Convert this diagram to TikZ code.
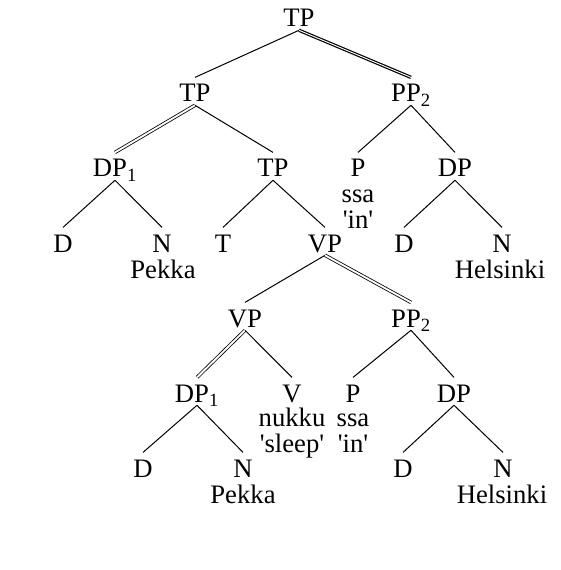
\documentclass[tikz,border=0pt]{standalone}
\usepackage{fontspec}
\setmainfont{Liberation Serif}[Ligatures=TeXOff]
\usepackage{tikz}

\tikzset{
  cat/.style  = {font=\fontsize{20}{22}\selectfont, inner xsep=0pt, inner ysep=2.25pt,
                 text height=16pt, text depth=0pt, anchor=base},
  word/.style = {font=\fontsize{20}{19}\selectfont, inner sep=0pt, anchor=base, align=center},
  branch/.style = {line width=0.75pt},
  moved/.style  = {double, line width=0.6pt, double distance=1.4pt},
  heavy/.style  = {double, line width=0.9pt, double distance=0.7pt}
}

\begin{document}
\begin{tikzpicture}[x=0.75pt, y=-0.75pt]

 \useasboundingbox (0,0) rectangle (560,570);

 % Root
 \node [cat] (tp0) at (299,27) {TP};

 % First level below the root
 \node [cat] (tp1) at (195,102) {TP};
 \node [cat] (pp1) at (411,102) {PP\textsubscript{2}};

 % Subject and the lower TP, upper PP
 \node [cat] (dp1) at (115,177) {DP\textsubscript{1}};
 \node [cat] (tp2) at (273,177) {TP};
 \node [cat] (p1)  at (358,177) {P};
 \node [cat] (dp2) at (455,177) {DP};
 \node [word] (ssa1) at (358,228) {ssa\\'in'};

 % Terminals of the upper tree
 \node [cat] (d1)  at (63,252)  {D};
 \node [cat] (n1)  at (162,252) {N};
 \node [cat] (t1)  at (223,252) {T};
 \node [cat] (vp1) at (325,252) {VP};
 \node [cat] (d2)  at (404,252) {D};
 \node [cat] (n2)  at (502,252) {N};
 \node [word] (pekka1)    at (163,278) {Pekka};
 \node [word] (helsinki1) at (500,278) {Helsinki};

 % VP shell
 \node [cat] (vp2) at (245,327) {VP};
 \node [cat] (pp2) at (411,327) {PP\textsubscript{2}};

 % Lower copies
 \node [cat] (dp3) at (197,402) {DP\textsubscript{1}};
 \node [cat] (v1)  at (292,402) {V};
 \node [cat] (p2)  at (353,402) {P};
 \node [cat] (dp4) at (454,402) {DP};
 \node [word] (nukku) at (292,452) {nukku\\'sleep'};
 \node [word] (ssa2)  at (353,452) {ssa\\'in'};

 % Terminals of the lower tree
 \node [cat] (d3) at (143,477) {D};
 \node [cat] (n3) at (243,477) {N};
 \node [cat] (d4) at (403,477) {D};
 \node [cat] (n4) at (503,477) {N};
 \node [word] (pekka2)    at (243,503) {Pekka};
 \node [word] (helsinki2) at (502,503) {Helsinki};

 % Branches, upper tree
 \draw [branch] (tp0.south) -- (tp1.north);
 \draw [heavy]  (tp0.south) -- (pp1.north);
 \draw [moved]  (tp1.south) -- (dp1.north);
 \draw [branch] (tp1.south) -- (tp2.north);
 \draw [branch] (pp1.south) -- (p1.north);
 \draw [branch] (pp1.south) -- (dp2.north);
 \draw [branch] (dp1.south) -- (d1.north);
 \draw [branch] (dp1.south) -- (n1.north);
 \draw [branch] (tp2.south) -- (t1.north);
 \draw [branch] (tp2.south) -- (vp1.north);
 \draw [branch] (dp2.south) -- (d2.north);
 \draw [branch] (dp2.south) -- (n2.north);

 % Branches, lower tree
 \draw [branch] (vp1.south) -- (vp2.north);
 \draw [moved]  (vp1.south) -- (pp2.north);
 \draw [moved]  (vp2.south) -- (dp3.north);
 \draw [branch] (vp2.south) -- (v1.north);
 \draw [branch] (pp2.south) -- (p2.north);
 \draw [branch] (pp2.south) -- (dp4.north);
 \draw [branch] (dp3.south) -- (d3.north);
 \draw [branch] (dp3.south) -- (n3.north);
 \draw [branch] (dp4.south) -- (d4.north);
 \draw [branch] (dp4.south) -- (n4.north);

\end{tikzpicture}
\end{document}
